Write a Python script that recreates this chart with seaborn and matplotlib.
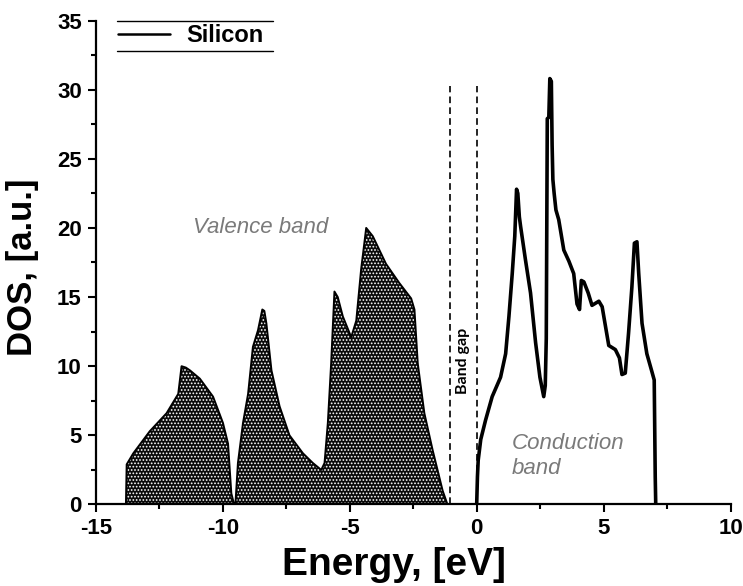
import numpy as np
import pandas as pd
import matplotlib
matplotlib.use("Agg")
import matplotlib.pyplot as plt
from matplotlib.ticker import MultipleLocator
import seaborn as sns

# Valence band density of states (filled region)
valence_energy = [-13.81, -13.78, -13.52, -12.87, -12.21, -11.75, -11.62, -11.45, -11.29,
                  -10.90, -10.38, -9.99, -9.79, -9.66, -9.55, -9.50, -9.40, -9.20, -9.00,
                  -8.81, -8.61, -8.44, -8.36, -8.28, -8.08, -7.76, -7.37, -6.84, -6.45,
                  -6.12, -5.99, -5.86, -5.73, -5.60, -5.47, -5.27, -4.94, -4.74, -4.55,
                  -4.35, -4.09, -3.57, -3.04, -2.58, -2.45, -2.32, -2.06, -1.73, -1.34, -1.15]
valence_dos = [0.0, 2.9, 3.7, 5.3, 6.6, 8.0, 10.0, 9.9, 9.7,
               9.1, 7.8, 5.9, 4.4, 0.8, 0.0, 0.0, 3.0, 5.9, 8.0,
               11.4, 12.6, 14.1, 14.0, 13.1, 9.7, 7.1, 5.0, 3.7, 3.0,
               2.5, 3.0, 5.9, 10.2, 15.4, 15.0, 13.6, 12.1, 13.3, 17.0,
               20.0, 19.4, 17.4, 16.0, 14.9, 14.1, 10.2, 6.6, 3.9, 1.0, 0.0]

# Conduction band density of states (outline only)
conduction_energy = [0.00, 0.03, 0.06, 0.16, 0.35, 0.61, 0.94, 1.14, 1.27, 1.40, 1.50,
                     1.57, 1.62, 1.68, 1.73, 1.92, 2.12, 2.32, 2.49, 2.64, 2.70, 2.74,
                     2.78, 2.84, 2.88, 2.94, 2.97, 3.00, 3.05, 3.12, 3.23, 3.43, 3.63,
                     3.82, 3.95, 4.05, 4.12, 4.22, 4.39, 4.54, 4.81, 4.94, 5.07, 5.20,
                     5.46, 5.62, 5.72, 5.85, 5.98, 6.11, 6.21, 6.31, 6.38, 6.51, 6.70,
                     6.90, 6.99, 7.03, 7.05]
conduction_dos = [0.0, 2.0, 3.2, 4.7, 6.1, 7.8, 9.2, 10.9, 13.6, 16.7, 19.4,
                  22.8, 22.5, 20.8, 20.1, 17.7, 15.3, 11.7, 9.2, 7.8, 8.6, 12.0,
                  27.9, 28.0, 30.8, 30.6, 26.0, 23.5, 22.5, 21.3, 20.6, 18.4, 17.6,
                  16.7, 14.5, 14.1, 16.2, 16.1, 15.3, 14.4, 14.7, 14.3, 12.9, 11.5,
                  11.2, 10.6, 9.4, 9.5, 12.4, 15.7, 18.9, 19.0, 16.7, 13.1, 10.9,
                  9.6, 9.0, 2.0, 0.0]

# Band gap edges
gap_edges = [-1.06, 0.0]
gap_top = 30.3

x_ticks = [-15, -10, -5, 0, 5, 10]
y_ticks = [0, 5, 10, 15, 20, 25, 30, 35]

sns.set_style("ticks")
plt.rcParams["font.family"] = ["Liberation Sans", "DejaVu Sans"]
plt.rcParams["hatch.linewidth"] = 0.8
plt.rcParams["axes.unicode_minus"] = False
for key in ["text.color", "axes.labelcolor", "xtick.color", "ytick.color",
            "axes.edgecolor"]:
    plt.rcParams[key] = "black"

valence = pd.DataFrame({"Energy": valence_energy, "DOS": valence_dos})
conduction = pd.DataFrame({"Energy": conduction_energy, "DOS": conduction_dos})

fig = plt.figure(figsize=(7.43, 5.86), dpi=100)
ax = fig.add_axes([0.1288, 0.1391, 0.9834 - 0.1288, 0.965 - 0.1391])

# hatched valence band: dark fill with a fine white dot pattern
ax.fill_between(valence["Energy"], 0, valence["DOS"], facecolor="#0a0a0a",
                edgecolor="white", hatch=".....", linewidth=0, zorder=1)
sns.lineplot(data=valence, x="Energy", y="DOS", ax=ax, color="black",
             linewidth=1.4, sort=False, estimator=None, zorder=2)
sns.lineplot(data=conduction, x="Energy", y="DOS", ax=ax, color="black",
             linewidth=2.6, sort=False, estimator=None, label="Silicon", zorder=3)

for e in gap_edges:
    ax.plot([e, e], [0, gap_top], color="black", linestyle=(0, (4, 2.5)),
            linewidth=1.2, zorder=2)

ax.text(-0.55, 10.4, "Band gap", rotation=90, ha="center", va="center",
        fontsize=11.5, fontweight="bold", family=["Lato", "DejaVu Sans"])
ax.text(-8.5, 20.0, "Valence band", ha="center", va="center", fontsize=16,
        style="italic", color="#7a7a7a")
ax.text(1.39, 3.5, "Conduction\nband", ha="left", va="center", fontsize=16,
        style="italic", color="#7a7a7a", linespacing=1.3)

ax.set_xlim(-15, 10)
ax.set_ylim(0, 35)
ax.set_xticks(x_ticks)
ax.set_yticks(y_ticks)
ax.xaxis.set_minor_locator(MultipleLocator(2.5))
ax.yaxis.set_minor_locator(MultipleLocator(2.5))
ax.tick_params(which="major", direction="out", length=6, width=1.5,
               labelsize=16, pad=4)
ax.tick_params(which="minor", direction="out", length=3.5, width=1.5)
for lbl in ax.get_xticklabels() + ax.get_yticklabels():
    lbl.set_fontweight("bold")

sns.despine(ax=ax)
for side in ["left", "bottom"]:
    ax.spines[side].set_linewidth(1.6)

ax.set_xlabel("Energy, [eV]", fontsize=28, fontweight="bold")
ax.xaxis.set_label_coords(0.47, -0.125, transform=ax.transAxes)
ax.xaxis.label.set_va("center")
ax.set_ylabel("DOS, [a.u.]", fontsize=25, fontweight="bold")
ax.yaxis.set_label_coords(-0.116, 0.49, transform=ax.transAxes)
ax.yaxis.label.set_va("center")

leg = ax.legend(loc="upper left", bbox_to_anchor=(0.02, 1.012), frameon=False,
                prop={"weight": "bold", "size": 17}, handlelength=2.2,
                handletextpad=0.7, borderaxespad=0)
for line in leg.get_lines():
    line.set_linewidth(1.8)
# rules above and below the legend entry
for yy in [1.0, 0.938]:
    ax.plot([0.033, 0.279], [yy, yy], transform=ax.transAxes, color="black",
            linewidth=1.0, clip_on=False)

fig.savefig("out.png", dpi=100)
